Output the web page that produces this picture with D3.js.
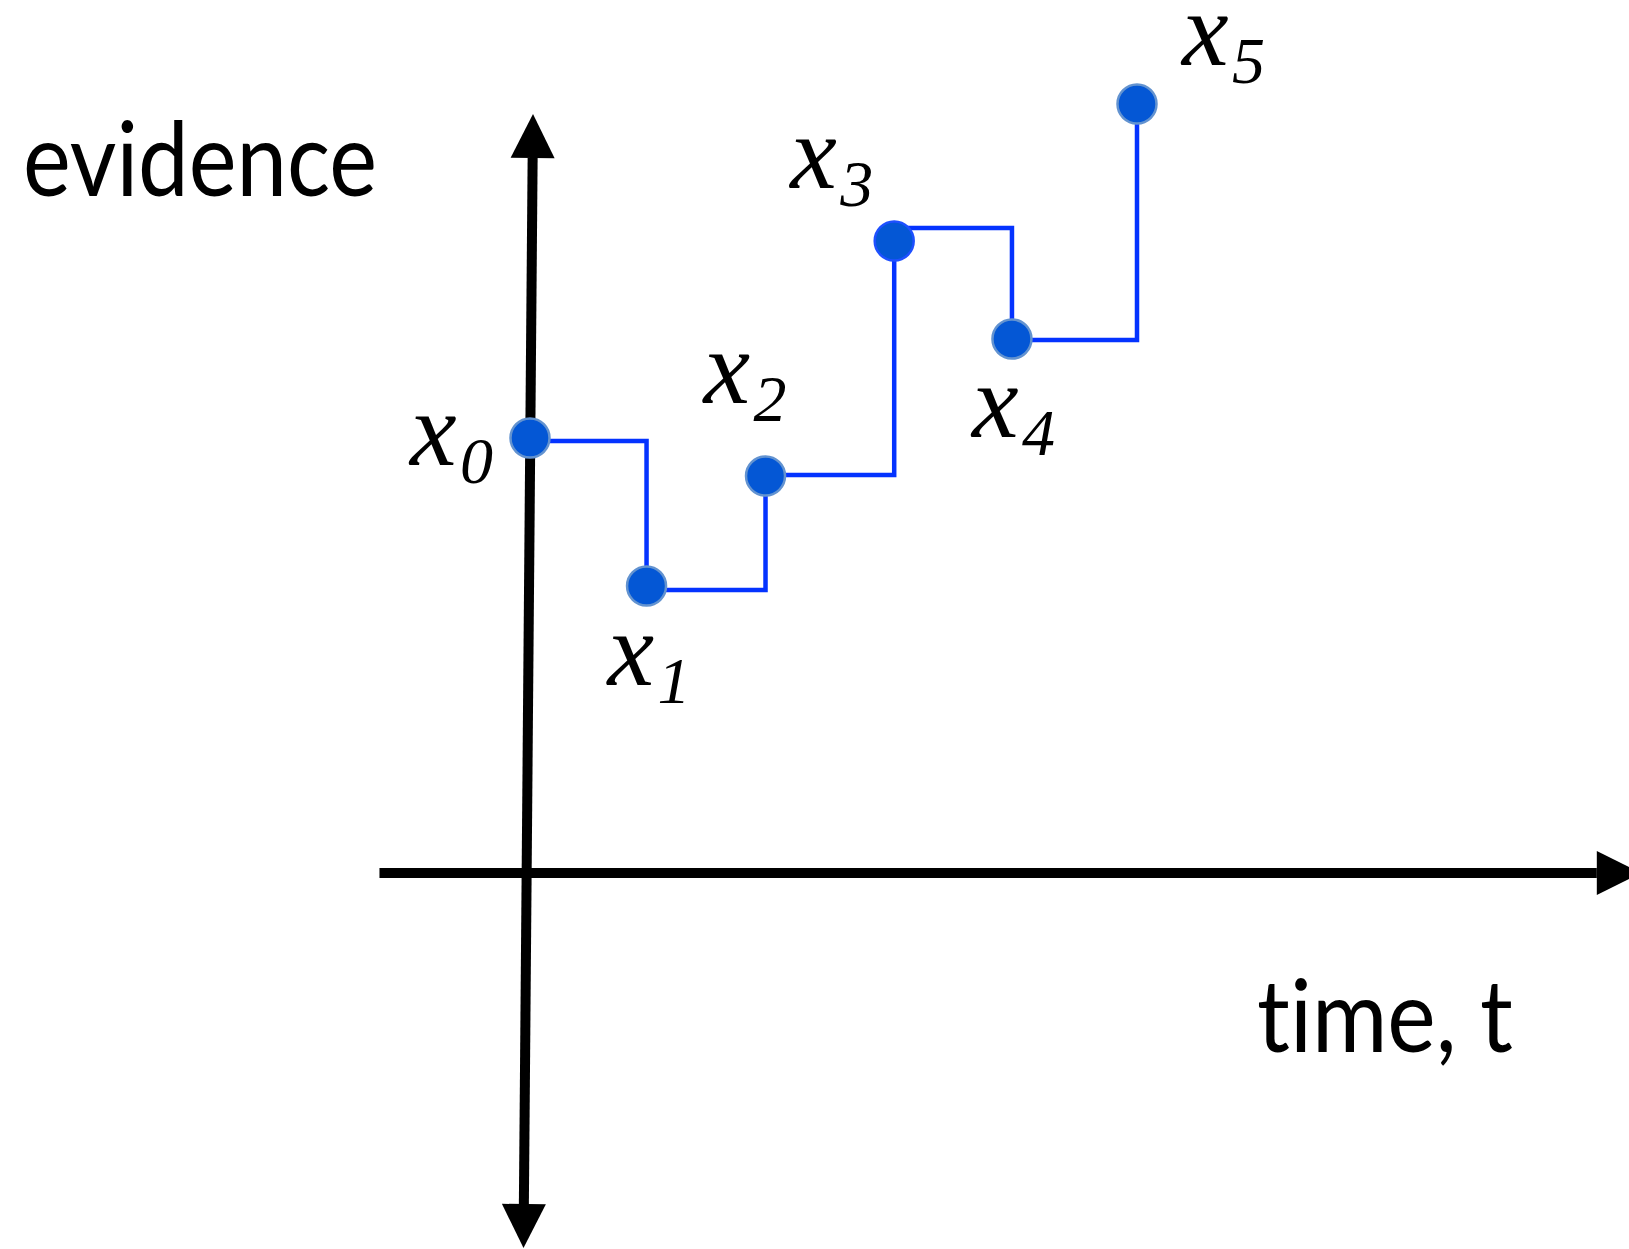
<!DOCTYPE html>
<html>
<head>
<meta charset="utf-8">
<script src="https://cdn.jsdelivr.net/npm/d3@7"></script>
<style>
  body { margin: 0; background: #fff; }
  svg { display: block; }
  text { font-variant-ligatures: none; font-feature-settings: "liga" 0; }
</style>
</head>
<body>
<div id="stepPlot"></div>
<script>
// ---------------------------//
//       DATA                 //
// ---------------------------//

// subscripts of the samples x0 ... x5
const subs = ["0", "1", "2", "3", "4", "5"];
// time of each sample
const times = [0, 0.96, 1.94, 3.0, 3.97, 5.0];
// evidence value of each sample
const evidence = [4.35, 2.87, 3.97, 6.32, 5.34, 7.69];
// level of the flat run that leaves each sample
const stepLevel = [4.32, 2.83, 3.98, 6.45, 5.33];
// how far the arrows reach, in data units
const timeExtent = [-1.24, 9.15];
const evidenceExtent = [-3.75, 7.59];

const xTitle = "time, t";
const yTitle = "evidence";

// where each x_i label sits, relative to its dot (px)
const labelOffset = [[-120, 27], [-39, 99], [-62, -73], [-104, -53], [-40, 98], [45, -39]];

// set the dimensions of the picture
const width = 1629,
    height = 1249;

const svg = d3.select("#stepPlot")
    .append("svg")
    .attr("width", width)
    .attr("height", height);

// ---------------------------//
//       SCALES               //
// ---------------------------//

const x = d3.scaleLinear()
    .domain([0, 5])
    .range([530, 1137]);

const y = d3.scaleLinear()
    .domain([0, 8])
    .range([873, 73]);

// ---------------------------//
//       AXES (ARROWS)        //
// ---------------------------//

const headLen = 44, headHalf = 22;

// draw a thick line with arrow heads on the ends asked for
function arrow(x1, y1, x2, y2, both) {
    const len = Math.hypot(x2 - x1, y2 - y1);
    const ux = (x2 - x1) / len, uy = (y2 - y1) / len;
    const px = -uy, py = ux;
    const sx = both ? x1 + ux * headLen : x1,
        sy = both ? y1 + uy * headLen : y1;
    svg.append("line")
        .attr("x1", sx).attr("y1", sy)
        .attr("x2", x2 - ux * headLen).attr("y2", y2 - uy * headLen)
        .attr("stroke", "#000")
        .attr("stroke-width", 10);
    const head = (tx, ty, dx, dy) => {
        const bx = tx - dx * headLen, by = ty - dy * headLen;
        svg.append("path")
            .attr("d", `M${tx},${ty}L${bx + px * headHalf},${by + py * headHalf}L${bx - px * headHalf},${by - py * headHalf}Z`)
            .attr("fill", "#000");
    };
    head(x2, y2, ux, uy);
    if (both) head(x1, y1, -ux, -uy);
}

// time axis
arrow(x(timeExtent[0]), y(0), x(timeExtent[1]), y(0), false);
// evidence axis, a little slanted like the hand drawn one
arrow(x(0) - 6.5, y(evidenceExtent[0]), x(0) + 3, y(evidenceExtent[1]), true);

// axis titles
svg.append("text")
    .attr("x", 23)
    .attr("y", 196)
    .attr("font-family", "Lato, 'Open Sans', sans-serif")
    .attr("font-size", 102)
    .attr("textLength", 354)
    .attr("lengthAdjust", "spacingAndGlyphs")
    .text(yTitle);

svg.append("text")
    .attr("x", 1257)
    .attr("y", 1052)
    .attr("font-family", "Lato, 'Open Sans', sans-serif")
    .attr("font-size", 100)
    .attr("textLength", 256)
    .attr("lengthAdjust", "spacingAndGlyphs")
    .text(xTitle);

// ---------------------------//
//       STEP LINE            //
// ---------------------------//

const step = d3.line()
    .x(d => x(d[0]))
    .y(d => y(d[1]))
    .curve(d3.curveStepAfter);

svg.append("g")
    .selectAll("path")
    .data(stepLevel)
    .join("path")
    .attr("d", (d, i) => step([[times[i], d], [times[i + 1], evidence[i + 1]]]))
    .attr("fill", "none")
    .attr("stroke", "#0433ff")
    .attr("stroke-width", 4.5)
    .attr("stroke-linejoin", "miter");

// ---------------------------//
//       DOTS                 //
// ---------------------------//

svg.append("g")
    .selectAll("circle")
    .data(evidence)
    .join("circle")
    .attr("cx", (d, i) => x(times[i]))
    .attr("cy", d => y(d))
    .attr("r", 19.5)
    .attr("fill", "#0457d5")
    .attr("stroke", (d, i) => i === 3 ? "#1e50ff" : "#6393d0")
    .attr("stroke-width", 2.5);

// ---------------------------//
//       LABELS x_i           //
// ---------------------------//

const lab = svg.append("g")
    .selectAll("text")
    .data(subs)
    .join("text")
    .attr("font-family", "'Liberation Serif', 'DejaVu Serif', serif")
    .attr("font-style", "italic")
    .attr("x", (d, i) => x(times[i]) + labelOffset[i][0])
    .attr("y", (d, i) => y(evidence[i]) + labelOffset[i][1])
    .attr("font-size", 105)
    .text("x");

lab.append("tspan")
    .attr("x", (d, i) => x(times[i]) + labelOffset[i][0] + 50)
    .attr("dy", 18)
    .attr("font-size", 66)
    .text(d => d);
</script>
</body>
</html>
